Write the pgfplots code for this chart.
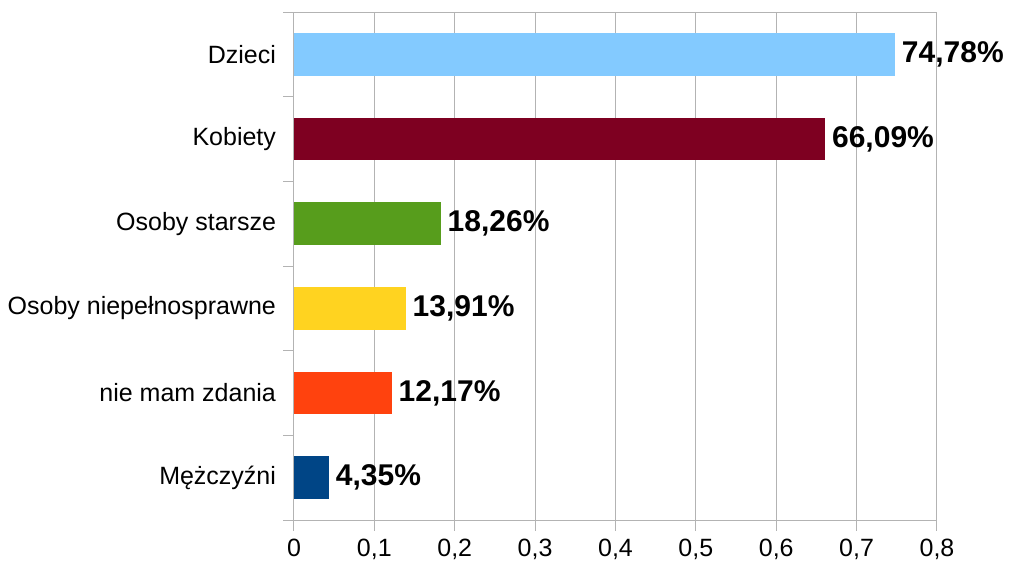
\documentclass[border=0pt]{standalone}
\usepackage{pgfplots}
\pgfplotsset{compat=1.18}
\usepackage{fontspec}
\setmainfont{Liberation Sans}
\definecolor{gridgray}{HTML}{B3B3B3}
\definecolor{cA}{HTML}{83CAFF}
\definecolor{cB}{HTML}{7E0021}
\definecolor{cC}{HTML}{579D1C}
\definecolor{cD}{HTML}{FFD320}
\definecolor{cE}{HTML}{FF420E}
\definecolor{cF}{HTML}{004586}
\begin{document}
\begin{tikzpicture}
\begin{axis}[
  at={(0pt,0pt)}, anchor=south west,
  width=482.25pt, height=381pt, scale only axis,
  xbar, bar width=32pt, bar shift=0pt,
  xmin=0, xmax=0.8, ymin=-0.5, ymax=5.5,
  clip=false,
  xtick={0,0.1,0.2,0.3,0.4,0.5,0.6,0.7,0.8},
  ytick={-0.5,0.5,1.5,2.5,3.5,4.5,5.5},
  yticklabels={},
  xtick pos=bottom, ytick pos=left,
  extra y ticks={0,1,2,3,4,5},
  extra y tick labels={Mężczyźni,nie mam zdania,Osoby niepełnosprawne,Osoby starsze,Kobiety,Dzieci},
  extra y tick style={major tick length=0pt, yticklabel style={xshift=-10pt}},
  tick align=outside,
  major tick length=8pt,
  xmajorgrids=true, ymajorgrids=false,
  grid style={gridgray, line width=0.75pt},
  axis line style={gridgray, line width=0.75pt},
  tick style={gridgray, line width=0.75pt},
  ticklabel style={font=\fontsize{18.75}{20}\selectfont, text=black},
  xticklabel style={yshift=-3pt, /pgf/number format/.cd, use comma, fixed, precision=1, assume math mode=true},
  point meta=explicit symbolic,
  nodes near coords={\pgfplotspointmeta},
  nodes near coords style={anchor=west, inner sep=0pt, xshift=5pt, font=\fontsize{22.5}{24}\selectfont\bfseries, text=black},
]
\addplot[fill=cF, draw=none] coordinates {(0.0435,0) [4,35\%]};
\addplot[fill=cE, draw=none] coordinates {(0.1217,1) [12,17\%]};
\addplot[fill=cD, draw=none] coordinates {(0.1391,2) [13,91\%]};
\addplot[fill=cC, draw=none] coordinates {(0.1826,3) [18,26\%]};
\addplot[fill=cB, draw=none] coordinates {(0.6609,4) [66,09\%]};
\addplot[fill=cA, draw=none] coordinates {(0.7478,5) [74,78\%]};
\end{axis}
\path[use as bounding box] (-220.5pt,-33.75pt) rectangle (537pt,390pt);
\end{tikzpicture}
\end{document}
